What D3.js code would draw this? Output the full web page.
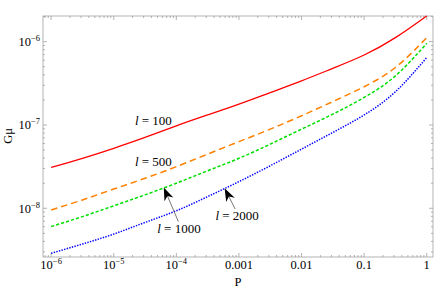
<!DOCTYPE html>
<html>
<head>
<meta charset="utf-8">
<script src="https://cdn.jsdelivr.net/npm/d3@7"></script>
<style>
  body { margin: 0; background: #fff; }
  text { font-family: "Liberation Serif", "Times New Roman", serif; fill: #000; }
</style>
</head>
<body>
<div class="chart"></div>
<script>
var svgWidth = 436;
var svgHeight = 292;

var pValues = [1e-6, 3.16e-6, 1e-5, 3.16e-5, 1e-4, 3.16e-4, 1e-3, 3.16e-3, 1e-2, 3.16e-2, 0.1, 0.316, 1];

// G mu for each multipole l
var g100 = [3.09e-8, 3.98e-8, 5.25e-8, 7.08e-8, 9.77e-8, 1.32e-7, 1.78e-7, 2.45e-7, 3.39e-7, 4.79e-7, 6.92e-7, 1.12e-6, 2.04e-6];
var g500 = [9.55e-9, 1.26e-8, 1.70e-8, 2.29e-8, 3.16e-8, 4.47e-8, 6.31e-8, 8.91e-8, 1.29e-7, 1.91e-7, 2.88e-7, 4.90e-7, 1.12e-6];
var g1000 = [6.03e-9, 7.94e-9, 1.07e-8, 1.45e-8, 2.00e-8, 2.82e-8, 3.98e-8, 5.89e-8, 8.91e-8, 1.35e-7, 2.14e-7, 3.89e-7, 9.55e-7];
var g2000 = [2.88e-9, 3.72e-9, 4.90e-9, 6.76e-9, 9.33e-9, 1.38e-8, 2.09e-8, 3.24e-8, 5.13e-8, 8.13e-8, 1.32e-7, 2.51e-7, 6.46e-7];

// tick labels
var xTickVals = [1e-6, 1e-5, 1e-4, 1e-3, 1e-2, 1e-1, 1];
var xTickText = [["10", "\u22126"], ["10", "\u22125"], ["10", "\u22124"], ["0.001"], ["0.01"], ["0.1"], ["1"]];
var yTickVals = [1e-8, 1e-7, 1e-6];
var yTickText = [["10", "\u22128"], ["10", "\u22127"], ["10", "\u22126"]];

// curve labels: [text, P, G] (centre, baseline)
var labels = [
  ["100", 4.3e-5, 1.0e-7],
  ["500", 4.3e-5, 3.18e-8],
  ["1000", 1.1e-4, 5.05e-9],
  ["2000", 9.35e-4, 7.33e-9]
];
// arrows: [tailP, tailG, tipP, tipG]
var arrows = [
  [1.08e-4, 6.9e-9, 6.3e-5, 1.78e-8],
  [8.7e-4, 9.8e-9, 5.9e-4, 1.74e-8]
];

var series = [
  { values: g100, color: "#ff0000", dash: null, w: 1.3 },
  { values: g500, color: "#ff8000", dash: "6.5,4", w: 1.5 },
  { values: g1000, color: "#00e000", dash: "3.2,2", w: 1.5 },
  { values: g2000, color: "#0000ff", dash: "1.4,1.3", w: 1.5 }
];

var x = d3.scaleLog().domain([Math.pow(10, -6.13), Math.pow(10, 0.1)]).range([43, 433]);
var y = d3.scaleLog().domain([Math.pow(10, -8.585), Math.pow(10, -5.6915)]).range([257, 16]);

var svg = d3.select(".chart")
  .append("svg")
  .attr("width", svgWidth)
  .attr("height", svgHeight);

var frameColor = "#a0a0a0";

// ticks on all four sides, pointing inwards
var xTicks = x.ticks();
var yTicks = y.ticks();
function isMajor(v) {
  var l = Math.log10(v);
  return Math.abs(l - Math.round(l)) < 1e-6;
}
var tickG = svg.append("g").attr("stroke", frameColor).attr("stroke-width", 0.8);
xTicks.forEach(function(v) {
  var len = isMajor(v) ? 4 : 2;
  var px = x(v);
  tickG.append("line").attr("x1", px).attr("x2", px).attr("y1", 257).attr("y2", 257 - len);
  tickG.append("line").attr("x1", px).attr("x2", px).attr("y1", 16).attr("y2", 16 + len);
});
yTicks.forEach(function(v) {
  var len = isMajor(v) ? 4 : 2;
  var py = y(v);
  tickG.append("line").attr("x1", 43).attr("x2", 43 + len).attr("y1", py).attr("y2", py);
  tickG.append("line").attr("x1", 433).attr("x2", 433 - len).attr("y1", py).attr("y2", py);
});

svg.append("rect")
  .attr("x", 43).attr("y", 16)
  .attr("width", 390).attr("height", 241)
  .attr("fill", "none")
  .attr("stroke", frameColor)
  .attr("stroke-width", 0.8);

// curves
var line = d3.line()
  .x(function(d) { return x(d[0]); })
  .y(function(d) { return y(d[1]); })
  .curve(d3.curveNatural);

svg.append("defs").append("clipPath").attr("id", "clip")
  .append("rect").attr("x", 43).attr("y", 15).attr("width", 390).attr("height", 242);

series.forEach(function(s) {
  var pts = pValues.map(function(p, i) { return [p, s.values[i]]; });
  svg.append("path")
    .attr("clip-path", "url(#clip)")
    .attr("d", line(pts))
    .attr("fill", "none")
    .attr("stroke", s.color)
    .attr("stroke-width", s.w)
    .attr("stroke-dasharray", s.dash);
});

// tick labels
xTickVals.forEach(function(v, i) {
  var t = svg.append("text")
    .attr("x", x(v))
    .attr("y", 269)
    .attr("text-anchor", "middle")
    .attr("font-size", 12.5);
  t.append("tspan").text(xTickText[i][0]);
  if (xTickText[i][1]) {
    t.append("tspan").attr("dy", -5).attr("font-size", 8.5).text(xTickText[i][1]);
  }
});
yTickVals.forEach(function(v, i) {
  var t = svg.append("text")
    .attr("x", 40)
    .attr("y", y(v) + 4.5)
    .attr("text-anchor", "end")
    .attr("font-size", 12.5);
  t.append("tspan").text(yTickText[i][0]);
  t.append("tspan").attr("dy", -5).attr("font-size", 8.5).text(yTickText[i][1]);
});

// axis titles
svg.append("text")
  .attr("x", 238)
  .attr("y", 286)
  .attr("text-anchor", "middle")
  .attr("font-size", 12.5)
  .text("P");
svg.append("text")
  .attr("transform", "translate(12," + 136 + ") rotate(-90)")
  .attr("text-anchor", "middle")
  .attr("font-size", 12.5)
  .text("G\u03bc");

// curve labels
labels.forEach(function(d) {
  var t = svg.append("text")
    .attr("x", x(d[1]))
    .attr("y", y(d[2]))
    .attr("text-anchor", "middle")
    .attr("font-size", 13);
  t.append("tspan").attr("font-style", "italic").text("l");
  t.append("tspan").text(" = " + d[0]);
});

// arrows
arrows.forEach(function(a) {
  var x0 = x(a[0]), y0 = y(a[1]), x1 = x(a[2]), y1 = y(a[3]);
  var ang = Math.atan2(y1 - y0, x1 - x0);
  var hl = 13, hw = 4.8;
  svg.append("line")
    .attr("x1", x0).attr("y1", y0)
    .attr("x2", x1 - Math.cos(ang) * 6).attr("y2", y1 - Math.sin(ang) * 6)
    .attr("stroke", "#555")
    .attr("stroke-width", 0.8);
  var bx = x1 - Math.cos(ang) * hl, by = y1 - Math.sin(ang) * hl;
  var nx = x1 - Math.cos(ang) * hl * 0.72, ny = y1 - Math.sin(ang) * hl * 0.72;
  var px = -Math.sin(ang) * hw, py = Math.cos(ang) * hw;
  svg.append("path")
    .attr("d", "M" + x1 + "," + y1 +
      "L" + (bx + px) + "," + (by + py) +
      "L" + nx + "," + ny +
      "L" + (bx - px) + "," + (by - py) + "Z")
    .attr("fill", "#000");
});
</script>
</body>
</html>
